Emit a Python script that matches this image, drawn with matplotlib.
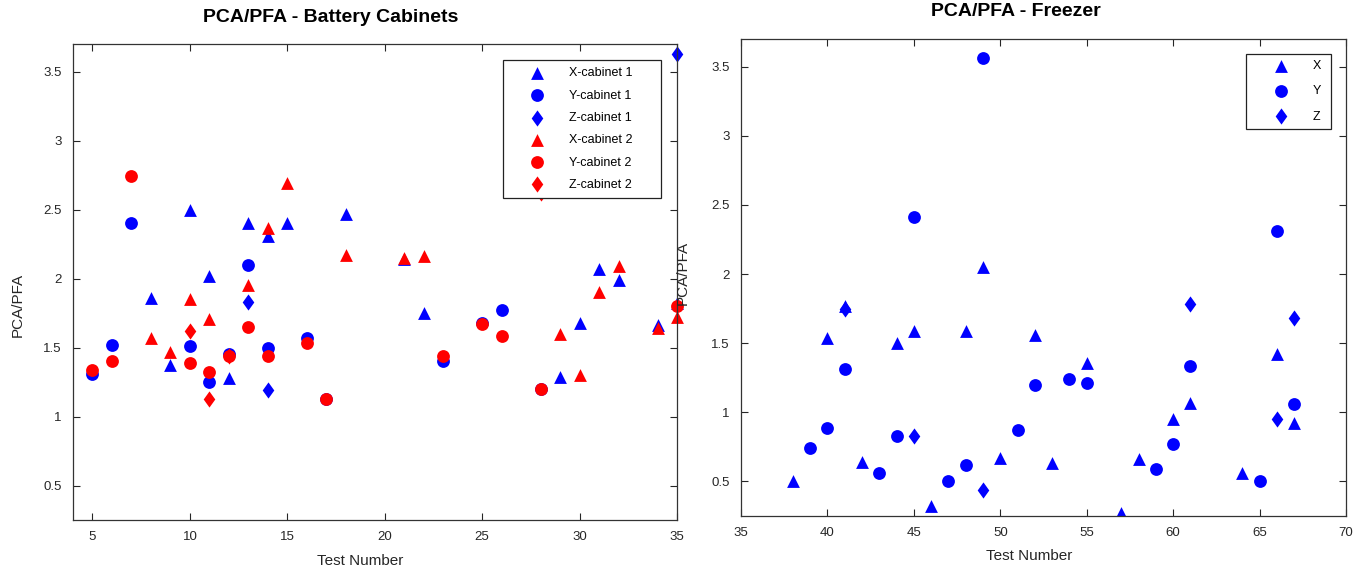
import matplotlib
matplotlib.use('Agg')
import matplotlib.pyplot as plt

plt.rcParams['font.family'] = ['Liberation Sans', 'DejaVu Sans']

# Battery cabinets, cabinet 1 (blue)
x_c1 = [8, 9, 10, 11, 12, 13, 14, 15, 18, 21, 22, 29, 30, 31, 32, 34, 35]
x_c1_val = [1.86, 1.37, 2.50, 2.02, 1.28, 2.40, 2.31, 2.40, 2.47, 2.14, 1.75, 1.29, 1.68, 2.07, 1.99, 1.66, 1.82]
y_c1 = [5, 6, 7, 10, 11, 12, 13, 14, 16, 17, 23, 25, 26, 28]
y_c1_val = [1.31, 1.52, 2.40, 1.51, 1.25, 1.45, 2.10, 1.50, 1.57, 1.13, 1.40, 1.68, 1.77, 1.20]
z_c1 = [13, 14, 35]
z_c1_val = [1.83, 1.19, 3.63]

# Battery cabinets, cabinet 2 (red)
x_c2 = [8, 9, 10, 11, 13, 14, 15, 18, 21, 22, 29, 30, 31, 32, 34, 35]
x_c2_val = [1.57, 1.47, 1.85, 1.71, 1.95, 2.37, 2.69, 2.17, 2.15, 2.16, 1.60, 1.30, 1.90, 2.09, 1.64, 1.72]
y_c2 = [5, 6, 7, 10, 11, 12, 13, 14, 16, 17, 23, 25, 26, 28, 35]
y_c2_val = [1.34, 1.40, 2.74, 1.385, 1.32, 1.44, 1.65, 1.44, 1.53, 1.13, 1.44, 1.67, 1.58, 1.20, 1.80]
z_c2 = [10, 11, 12, 28]
z_c2_val = [1.62, 1.125, 1.44, 2.62]

# Freezer
x_fr = [38, 40, 41, 42, 44, 45, 46, 48, 49, 50, 52, 53, 55, 57, 58, 60, 61, 64, 66, 67]
x_fr_val = [0.50, 1.54, 1.77, 0.64, 1.50, 1.59, 0.32, 1.59, 2.05, 0.67, 1.56, 0.63, 1.36, 0.27, 0.66, 0.95, 1.07, 0.56, 1.42, 0.92]
y_fr = [39, 40, 41, 43, 44, 45, 47, 48, 49, 51, 52, 54, 55, 59, 60, 61, 65, 66, 67]
y_fr_val = [0.74, 0.89, 1.31, 0.56, 0.83, 2.41, 0.50, 0.62, 3.56, 0.87, 1.195, 1.24, 1.215, 0.59, 0.77, 1.335, 0.50, 2.31, 1.06]
z_fr = [41, 45, 49, 61, 66, 67]
z_fr_val = [1.75, 0.83, 0.44, 1.78, 0.955, 1.68]

yticks = [0.5, 1, 1.5, 2, 2.5, 3, 3.5]
ytick_labels = ['0.5', '1', '1.5', '2', '2.5', '3', '3.5']

# matlab-like diamond, a bit wider than mpl 'd'
diamond = [(0, 1), (0.72, 0), (0, -1), (-0.72, 0), (0, 1)]

fig = plt.figure(figsize=(13.62, 5.71), dpi=100)
ax1 = fig.add_axes([73/1362, 51/571, 604/1362, 476/571])
ax2 = fig.add_axes([741/1362, 55/571, 605/1362, 477/571])

ms = 85
md = 135
ax1.scatter(x_c1, x_c1_val, marker='^', s=ms, c='blue', lw=0, label='X-cabinet 1      ', clip_on=False)
ax1.scatter(y_c1, y_c1_val, marker='o', s=ms, c='blue', lw=0, label='Y-cabinet 1      ', clip_on=False)
ax1.scatter(z_c1, z_c1_val, marker=diamond, s=md, c='blue', lw=0, label='Z-cabinet 1      ', clip_on=False)
ax1.scatter(x_c2, x_c2_val, marker='^', s=ms, c='red', lw=0, label='X-cabinet 2      ', clip_on=False)
ax1.scatter(y_c2, y_c2_val, marker='o', s=ms, c='red', lw=0, label='Y-cabinet 2      ', clip_on=False)
ax1.scatter(z_c2, z_c2_val, marker=diamond, s=md, c='red', lw=0, label='Z-cabinet 2      ', clip_on=False)
ax1.set_xlim(4, 35)
ax1.set_xticks([5, 10, 15, 20, 25, 30, 35])

ax2.scatter(x_fr, x_fr_val, marker='^', s=ms, c='blue', lw=0, label='X ')
ax2.scatter(y_fr, y_fr_val, marker='o', s=ms, c='blue', lw=0, label='Y ')
ax2.scatter(z_fr, z_fr_val, marker=diamond, s=md, c='blue', lw=0, label='Z ')
ax2.set_xlim(35, 70)
ax2.set_xticks([35, 40, 45, 50, 55, 60, 65, 70])

for ax in (ax1, ax2):
    ax.set_ylim(0.25, 3.7)
    ax.set_yticks(yticks)
    ax.set_yticklabels(ytick_labels)
    ax.tick_params(direction='in', top=True, right=True, length=5, width=0.8,
                   labelsize=9.5, colors='#262626', pad=8)
    for sp in ax.spines.values():
        sp.set_color('#333333')
        sp.set_linewidth(0.9)
    ax.set_facecolor('none')

leg1 = ax1.legend(loc='upper right', bbox_to_anchor=(661/1362, 1 - 60/571),
                  bbox_transform=fig.transFigure, fontsize=9, fancybox=False,
                  edgecolor='#222222', framealpha=1, borderpad=0.6, labelspacing=0.82,
                  handlelength=4.2, handletextpad=0.45, borderaxespad=0)
leg1.set_zorder(5)
leg2 = ax2.legend(loc='upper right', bbox_to_anchor=(1331/1362, 1 - 54/571),
                  bbox_transform=fig.transFigure, fontsize=9, fancybox=False,
                  edgecolor='#222222', framealpha=1, borderpad=0.5, labelspacing=1.05,
                  handlelength=4.6, handletextpad=0.25, borderaxespad=0)
for leg in (leg1, leg2):
    leg.get_frame().set_linewidth(0.9)

fig.text(331/1362, 1 - 18/571, 'PCA/PFA - Battery Cabinets', ha='center', va='center',
         fontsize=14, fontweight='bold')
fig.text(1016/1362, 1 - 12/571, 'PCA/PFA - Freezer', ha='center', va='center',
         fontsize=14, fontweight='bold')
fig.text(360/1362, 1 - 561/571, 'Test Number', ha='center', va='center', fontsize=11, color='#262626')
fig.text(1029/1362, 1 - 556/571, 'Test Number', ha='center', va='center', fontsize=11, color='#262626')
fig.text(18/1362, 1 - 305/571, 'PCA/PFA', ha='center', va='center', rotation=90, fontsize=11, color='#262626')
fig.text(683/1362, 1 - 273/571, 'PCA/PFA', ha='center', va='center', rotation=90, fontsize=11, color='#262626')

fig.savefig('out.png', dpi=100)
